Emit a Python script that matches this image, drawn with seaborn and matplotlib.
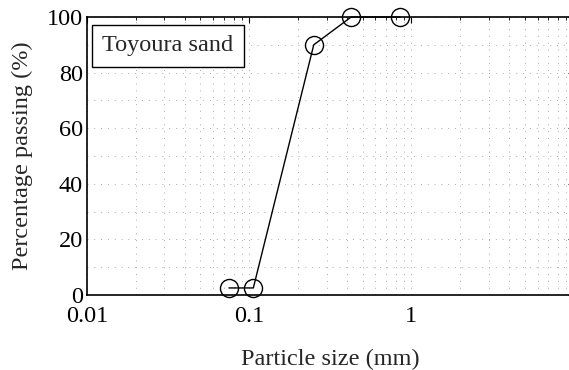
import numpy as np
import pandas as pd
import seaborn as sns
import matplotlib.pyplot as plt
from matplotlib.ticker import FixedLocator, FixedFormatter, LogLocator, MultipleLocator

# grain size distribution (Toyoura sand)
particle_size = [0.075, 0.106, 0.25, 0.425, 0.85]
passing = [2.5, 2.5, 90, 100, 100]
x_ticks = [0.01, 0.1, 1]
x_ticklabels = ['0.01', '0.1', '1']
y_ticks = [0, 20, 40, 60, 80, 100]

sns.set_style('white')
plt.rcParams['font.family'] = ['Liberation Serif', 'DejaVu Serif']

df = pd.DataFrame({'size': particle_size, 'passing': passing})

fig = plt.figure(figsize=(5.69, 3.70), dpi=100)
ax = fig.add_axes([0.153, 0.203, 0.855, 0.751])

sns.lineplot(data=df, x='size', y='passing', ax=ax, color='black', lw=1,
             marker='o', markersize=13, markerfacecolor='none',
             markeredgecolor='black', markeredgewidth=1, sort=False,
             clip_on=False, zorder=5)

ax.set_xscale('log')
ax.set_xlim(0.01, 10)
ax.set_ylim(0, 100)
ax.xaxis.set_major_locator(FixedLocator(x_ticks))
ax.xaxis.set_major_formatter(FixedFormatter(x_ticklabels))
ax.xaxis.set_minor_locator(LogLocator(base=10, subs=np.arange(2, 10)))
ax.set_yticks(y_ticks)
ax.yaxis.set_minor_locator(MultipleLocator(10))

# dotted grid like the scanned figure
ax.grid(True, which='both', color='#aaaaaa', linestyle=(0, (1, 6)), lw=0.7)

for s in ax.spines.values():
    s.set_color('black')
    s.set_linewidth(1.2)

ax.tick_params(axis='both', which='both', direction='in', labelsize=17.5,
               colors='black', top=True, right=True, length=4)
ax.tick_params(axis='x', pad=8)
ax.tick_params(axis='y', pad=3)
ax.tick_params(which='minor', length=2)

ax.set_xlabel('Particle size (mm)', fontsize=17.5, labelpad=16)
ax.set_ylabel('Percentage passing (%)', fontsize=17.5, labelpad=10)

ax.text(0.0124, 89.6, 'Toyoura sand', fontsize=17.5, va='center', ha='left',
        bbox=dict(boxstyle='square,pad=0.42', fc='white', ec='black', lw=1))

plt.savefig('out.png', dpi=100)
